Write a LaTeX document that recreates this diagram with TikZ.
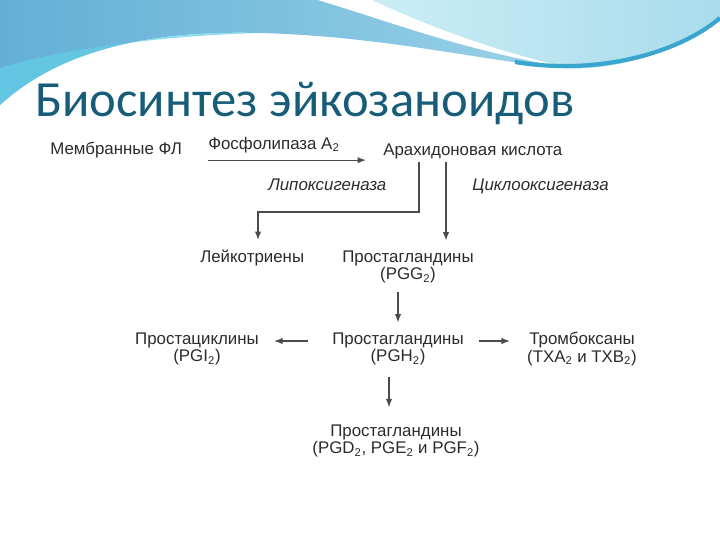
\documentclass[tikz,border=0pt]{standalone}
\usepackage{fontspec}
\setmainfont{Liberation Sans}
\newfontfamily\titlefont{Carlito}
\usetikzlibrary{arrows.meta,calc}

\definecolor{wavedark}{HTML}{62AFD6}
\definecolor{wavelight}{HTML}{A9DCEC}
\definecolor{wavepale}{HTML}{CBEDF5}
\definecolor{waveedge}{HTML}{3AA5CF}
\definecolor{wavecyan}{HTML}{63CFE6}
\definecolor{titleblue}{HTML}{175C78}
\definecolor{inkgray}{HTML}{2B2B2B}

\tikzset{
  lbl/.style={font=\fontsize{12}{12.5}\selectfont, text=inkgray, inner sep=0pt, align=center},
  enz/.style={lbl, font=\fontsize{12}{12.5}\selectfont\itshape},
  arr/.style={draw=inkgray!85, line width=0.8pt, -{Latex[length=6pt,width=4.5pt]}},
}

\begin{document}
\begin{tikzpicture}[x=0.025cm,y=-0.025cm]
\useasboundingbox (0,0) rectangle (720,540);
% wave at the top
\shade[left color=wavedark, right color=wavelight] (0,0) -- (0,105)
  .. controls (60,50) and (150,30) .. (260,33)
  .. controls (380,36) and (480,60) .. (560,68)
  .. controls (625,72) and (690,45) .. (720,18) -- (720,0) -- cycle;
\fill[wavecyan, opacity=0.7] (0,105) .. controls (60,50) and (150,30) .. (260,33)
  .. controls (150,36) and (50,52) .. (0,68) -- cycle;
\shade[left color=wavepale, right color=wavelight] (372,0)
  .. controls (420,22) and (480,47) .. (565,67)
  .. controls (625,70) and (690,45) .. (720,18) -- (720,0) -- cycle;
\fill[white] (318,0) .. controls (400,25) and (470,52) .. (565,67)
  .. controls (480,47) and (420,22) .. (372,0) -- cycle;
\draw[waveedge, line width=3pt] (515,62) .. controls (600,76) and (680,52) .. (720,18);

% title
\node[anchor=base west, font=\titlefont\fontsize{36}{40}\selectfont, text=titleblue, inner sep=0pt]
  (title) at (35,116) {Биосинтез эйкозаноидов};

% scheme
\node[lbl, anchor=west] (mfl) at (50,150) {Мембранные ФЛ};
\node[lbl, anchor=west] (pla) at (208,145) {Фосфолипаза A\textsubscript{2}};
\node[lbl, anchor=west] (aa) at (383,151) {Арахидоновая кислота};
\node[enz, anchor=west] (lox) at (268,185) {Липоксигеназа};
\node[enz, anchor=west] (cox) at (472,186) {Циклооксигеназа};
\node[lbl, anchor=west] (lt) at (200,258) {Лейкотриены};
\node[lbl] (pgg) at (408,267) {Простагландины\\(PGG\textsubscript{2})};
\node[lbl] (pgi) at (197,349) {Простациклины\\(PGI\textsubscript{2})};
\node[lbl] (pgh) at (398,349) {Простагландины\\(PGH\textsubscript{2})};
\node[lbl] (tx) at (582,349) {Тромбоксаны\\(TXA\textsubscript{2} и TXB\textsubscript{2})};
\node[lbl] (pgd) at (396,441) {Простагландины\\(PGD\textsubscript{2}, PGE\textsubscript{2} и PGF\textsubscript{2})};

\coordinate (lbend) at (419,212);
\coordinate (ltin) at (258,240);
\coordinate (cline) at (446,0);

\draw[arr] ($(pla.south west)+(0,7)$) -- ($(aa.west |- pla.south)+(-17,7)$);
\draw[arr, shorten <=2pt] (aa.south -| lbend) -- (lbend) -| (ltin);
\draw[arr, shorten <=2pt, shorten >=7pt] (aa.south -| cline) -- (pgg.north -| cline);
\draw[arr, shorten <=6pt, shorten >=7pt] (pgg.south -| pgh) -- (pgh.north);
\draw[arr] ($(pgh.south)+(-9,11)$) -- ($(pgh.south |- pgd.north)+(-9,-17)$);
\draw[arr] ($(pgh.west)+(-24,-8)$) -- ($(pgi.east)+(15,-8)$);
\draw[arr] ($(pgh.east)+(15,-8)$) -- ($(tx.west)+(-17,-8)$);
\end{tikzpicture}
\end{document}
